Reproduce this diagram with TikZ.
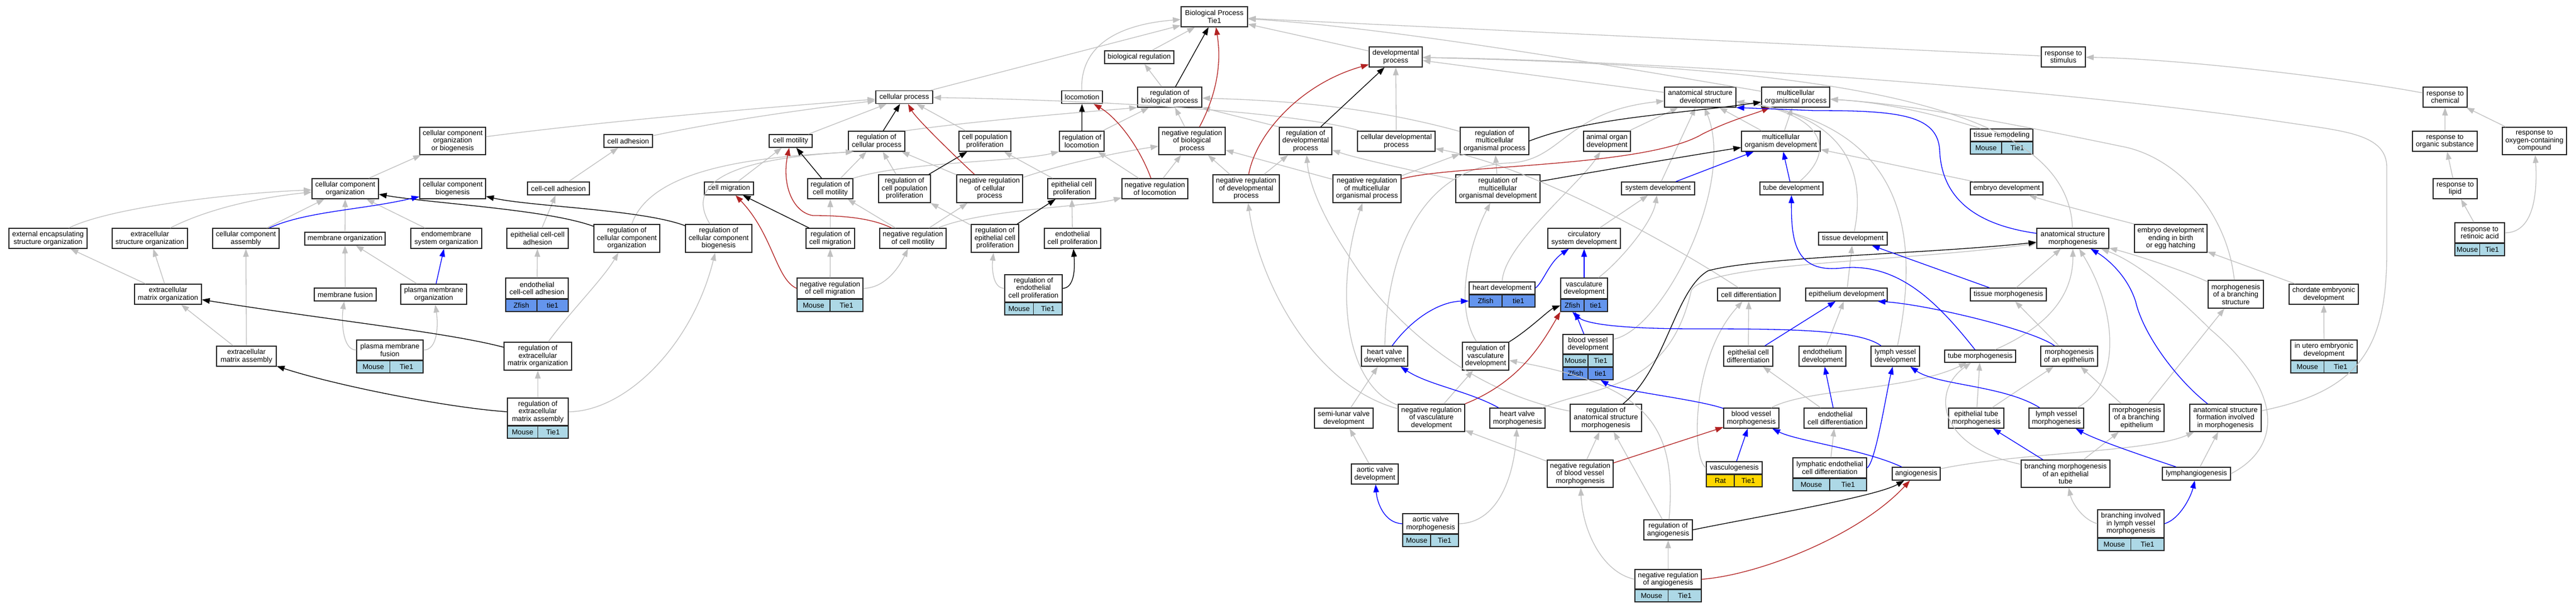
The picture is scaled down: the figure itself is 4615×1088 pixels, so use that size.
\documentclass[tikz,border=0pt]{standalone}
\usepackage{fontspec}
\setmainfont{Liberation Sans}
\usetikzlibrary{arrows.meta}
\definecolor{isagray}{RGB}{192,192,192}
\definecolor{negred}{RGB}{178,34,34}
\definecolor{partblue}{RGB}{0,0,255}
\definecolor{mouseblue}{RGB}{173,216,230}
\definecolor{fishblue}{RGB}{100,149,237}
\definecolor{ratgold}{RGB}{255,215,0}
\tikzset{
	term/.style={draw=black!85, line width=1.5pt, fill=white, align=center, inner sep=1pt, font=\fontsize{12.8}{13.5}\selectfont},
	genecell/.style={draw=black!85, line width=1.5pt, minimum height=21.5pt, inner sep=1pt, font=\fontsize{12.8}{13.5}\selectfont},
	isa/.style={draw=isagray, line width=1.3pt, -{Triangle[length=14pt,width=10pt]}},
	reg/.style={draw=black, line width=1.3pt, -{Triangle[length=14pt,width=10pt]}},
	negreg/.style={draw=negred, line width=1.3pt, -{Triangle[length=14pt,width=10pt]}},
	partof/.style={draw=partblue, line width=1.3pt, -{Triangle[length=14pt,width=10pt]}}
}
\newcommand{\term}[6]{\node[term, minimum width=#4pt, minimum height=#5pt] (#1) at (#2,#3) {#6};}
\newcommand{\genes}[7]{%
	\node[genecell, fill=#5, minimum width=#4pt, anchor=north west] (#1a) at (#2) {#6};
	\node[genecell, fill=#5, minimum width=#4pt, anchor=north east] (#1b) at (#3) {#7};}

\begin{document}
\begin{tikzpicture}[x=1pt, y=-1pt]
		%%%%% START %%%%%
		\useasboundingbox (0,0) rectangle (4615,1088);
		
		% cellular component side
		\term{ccob}{811}{252.5}{118}{49}{cellular component\\organization\\or biogenesis}
		\term{ccorg}{618.5}{338}{119}{36}{cellular component\\organization}
		\term{ccbio}{811}{338}{118}{36}{cellular component\\biogenesis}
		\term{extenc}{86}{427}{140}{36}{external encapsulating\\structure organization}
		\term{extstr}{268.5}{427}{135}{36}{extracellular\\structure organization}
		\term{ccasm}{440.5}{427}{119}{36}{cellular component\\assembly}
		\term{memorg}{618}{427.5}{144}{23}{membrane organization}
		\term{endomem}{799.5}{427}{127}{36}{endomembrane\\system organization}
		\term{ecmorg}{301}{527}{120}{36}{extracellular\\matrix organization}
		\term{memfus}{618.5}{527.5}{111}{23}{membrane fusion}
		\term{pmorg}{777}{527}{118}{36}{plasma membrane\\organization}
		\term{ecmasm}{441.5}{638}{107}{36}{extracellular\\matrix assembly}
		\term{pmfus}{698.5}{627}{119}{36}{plasma membrane\\fusion}
		\genes{pmfusm}{pmfus.south west}{pmfus.south east}{59.5}{mouseblue}{Mouse}{Tie1}
		\term{celladh}{1125.5}{252.5}{87}{23}{cell adhesion}
		\term{cellmot}{1416.5}{252.5}{77}{23}{cell motility}
		\term{ccadh}{1000.5}{337.5}{111}{23}{cell-cell adhesion}
		\term{cellmig}{1306}{337.5}{88}{23}{cell migration}
		\term{regmot}{1487.5}{338}{81}{36}{regulation of\\cell motility}
		\term{epiadh}{963}{427}{110}{36}{epithelial cell-cell\\adhesion}
		\term{regccorg}{1123}{427}{118}{50}{regulation of\\cellular component\\organization}
		\term{regccbio}{1287.5}{427}{119}{50}{regulation of\\cellular component\\biogenesis}
		\term{regmig}{1487.5}{427}{87}{36}{regulation of\\cell migration}
		\term{endoadh}{962}{516.5}{112}{37}{endothelial\\cell-cell adhesion}
		\genes{endoadhz}{endoadh.south west}{endoadh.south east}{56}{fishblue}{Zfish}{tie1}
		\term{negmig}{1487}{516.5}{118}{37}{negative regulation\\of cell migration}
		\genes{negmigm}{negmig.south west}{negmig.south east}{59}{mouseblue}{Mouse}{Tie1}
		\term{regecmorg}{963.5}{638}{121}{50}{regulation of\\extracellular\\matrix organization}
		\term{regecmasm}{963.5}{737.5}{109}{49}{regulation of\\extracellular\\matrix assembly}
		\genes{regecmasmm}{regecmasm.south west}{regecmasm.south east}{54.5}{mouseblue}{Mouse}{Tie1}
		
		% top and regulation
		\term{bp}{2175.5}{30}{119}{36}{Biological Process\\Tie1}
		\term{bioreg}{2041}{102.5}{124}{23}{biological regulation}
		\term{cellproc}{1620}{174}{102}{23}{cellular process}
		\term{locom}{1938.5}{174}{73}{23}{locomotion}
		\term{regbio}{2095.5}{174}{115}{36}{regulation of\\biological process}
		\term{regcell}{1570.5}{253}{101}{36}{regulation of\\cellular process}
		\term{cellpop}{1764.5}{253}{93}{36}{cell population\\proliferation}
		\term{regloc}{1938}{253}{80}{36}{regulation of\\locomotion}
		\term{negbio}{2135.5}{252.5}{119}{49}{negative regulation\\of biological\\process}
		\term{regpop}{1620.5}{338}{93}{50}{regulation of\\cell population\\proliferation}
		\term{negcell}{1773}{338}{118}{50}{negative regulation\\of cellular\\process}
		\term{epiprol}{1920}{338}{86}{36}{epithelial cell\\proliferation}
		\term{negloc}{2069}{338}{118}{36}{negative regulation\\of locomotion}
		\term{negdev}{2232.5}{338}{119}{50}{negative regulation\\of developmental\\process}
		\term{negmot}{1635.5}{427}{119}{36}{negative regulation\\of cell motility}
		\term{regepi}{1782.5}{427}{85}{50}{regulation of\\epithelial cell\\proliferation}
		\term{endoprol}{1921.5}{427}{101}{36}{endothelial\\cell proliferation}
		\term{regendo}{1851.5}{516.5}{103}{49}{regulation of\\endothelial\\cell proliferation}
		\genes{regendom}{regendo.south west}{regendo.south east}{51.5}{mouseblue}{Mouse}{Tie1}
		
		% development
		\term{devproc}{2500.5}{102}{95}{36}{developmental\\process}
		\term{asdev}{3046}{174}{128}{36}{anatomical structure\\development}
		\term{regdev}{2339}{252.5}{94}{49}{regulation of\\developmental\\process}
		\term{celldev}{2501.5}{253}{139}{36}{cellular developmental\\process}
		\term{regmop}{2677.5}{252.5}{123}{49}{regulation of\\multicellular\\organismal process}
		\term{organdev}{2879}{253}{84}{36}{animal organ\\development}
		\term{negmop}{2449}{338}{122}{50}{negative regulation\\of multicellular\\organismal process}
		\term{regmod}{2683.5}{338}{151}{50}{regulation of\\multicellular\\organismal development}
		\term{sysdev}{2970.5}{337.5}{131}{23}{system development}
		\term{circdev}{2838}{427}{130}{36}{circulatory\\system development}
		\term{heartdev}{2691}{516}{118}{22}{heart development}
		\genes{heartdevz}{heartdev.south west}{heartdev.south east}{59}{fishblue}{Zfish}{tie1}
		\term{vascdev}{2838}{516.5}{84}{37}{vasculature\\development}
		\genes{vascdevz}{vascdev.south west}{vascdev.south east}{42}{fishblue}{Zfish}{tie1}
		\term{hvdev}{2480.5}{638}{83}{36}{heart valve\\development}
		\term{regvasc}{2661.5}{638}{83}{50}{regulation of\\vasculature\\development}
		\term{bvdev}{2845}{616.5}{90}{35}{blood vessel\\development}
		\genes{bvdevm}{bvdev.south west}{bvdev.south east}{45}{mouseblue}{Mouse}{Tie1}
		\genes{bvdevz}{bvdevma.south west}{bvdevmb.south east}{45}{fishblue}{Zfish}{tie1}
		\term{slvdev}{2407.5}{749}{105}{36}{semi-lunar valve\\development}
		\term{negvasc}{2564.5}{748.5}{119}{49}{negative regulation\\of vasculature\\development}
		\term{hvmorph}{2718.5}{749}{99}{36}{heart valve\\morphogenesis}
		\term{regasm}{2877}{748.5}{128}{49}{regulation of\\anatomical structure\\morphogenesis}
		\term{avdev}{2463}{849}{84}{36}{aortic valve\\development}
		\term{negbvm}{2831}{848.5}{118}{49}{negative regulation\\of blood vessel\\morphogenesis}
		\term{avmorph}{2563}{938}{100}{36}{aortic valve\\morphogenesis}
		\genes{avmorphm}{avmorph.south west}{avmorph.south east}{50}{mouseblue}{Mouse}{Tie1}
		\term{regang}{2988.5}{949}{87}{36}{regulation of\\angiogenesis}
		\term{negang}{2988.5}{1037.5}{119}{35}{negative regulation\\of angiogenesis}
		\genes{negangm}{negang.south west}{negang.south east}{59.5}{mouseblue}{Mouse}{Tie1}
		
		% morphogenesis and response
		\term{respstim}{3696.5}{102}{79}{36}{response to\\stimulus}
		\term{mop}{3217}{174}{122}{36}{multicellular\\organismal process}
		\term{modev}{3190.5}{253}{141}{36}{multicellular\\organism development}
		\term{tissrem}{3586}{242}{112}{22}{tissue remodeling}
		\genes{tissremm}{tissrem.south west}{tissrem.south east}{56}{mouseblue}{Mouse}{Tie1}
		\term{tubedev}{3209.5}{337.5}{113}{23}{tube development}
		\term{embdev}{3595}{337.5}{130}{23}{embryo development}
		\term{tissdev}{3319.5}{427.5}{123}{23}{tissue development}
		\term{asmorph}{3713.5}{427}{129}{36}{anatomical structure\\morphogenesis}
		\term{celldiff}{3133}{527.5}{112}{23}{cell differentiation}
		\term{epidev}{3308}{527.5}{146}{23}{epithelium development}
		\term{tissmorph}{3598}{527.5}{136}{23}{tissue morphogenesis}
		\term{epidiff}{3132}{638}{88}{36}{epithelial cell\\differentiation}
		\term{endodev}{3265}{638}{84}{36}{endothelium\\development}
		\term{lvdev}{3395.5}{638}{87}{36}{lymph vessel\\development}
		\term{tubemorph}{3547.5}{638}{127}{22}{tube morphogenesis}
		\term{morphepi}{3707}{638}{102}{36}{morphogenesis\\of an epithelium}
		\term{bvmorph}{3137.5}{749}{99}{36}{blood vessel\\morphogenesis}
		\term{endodiff}{3288}{749}{112}{36}{endothelial\\cell differentiation}
		\term{epitube}{3540.5}{749}{99}{36}{epithelial tube\\morphogenesis}
		\term{lvmorph}{3684}{749}{98}{36}{lymph vessel\\morphogenesis}
		\term{morphbre}{3828}{748.5}{98}{49}{morphogenesis\\of a branching\\epithelium}
		\term{vasculo}{3107}{838}{100}{22}{vasculogenesis}
		\genes{vasculor}{vasculo.south west}{vasculo.south east}{50}{ratgold}{Rat}{Tie1}
		\term{lecdiff}{3278}{838}{132}{36}{lymphatic endothelial\\cell differentiation}
		\genes{lecdiffm}{lecdiff.south west}{lecdiff.south east}{66}{mouseblue}{Mouse}{Tie1}
		\term{angio}{3433}{848.5}{86}{23}{angiogenesis}
		\term{bmet}{3700.5}{848.5}{159}{49}{branching morphogenesis\\of an epithelial\\tube}
		\term{blvm}{3817.5}{938}{119}{50}{branching involved\\in lymph vessel\\morphogenesis}
		\genes{blvmm}{blvm.south west}{blvm.south east}{59.5}{mouseblue}{Mouse}{Tie1}
		\term{rchem}{4380.5}{174}{79}{36}{response to\\chemical}
		\term{rorg}{4380}{253}{116}{36}{response to\\organic substance}
		\term{roxy}{4540.5}{252.5}{115}{49}{response to\\oxygen-containing\\compound}
		\term{rlipid}{4398.5}{338}{79}{36}{response to\\lipid}
		\term{rretin}{4442.5}{417}{89}{36}{response to\\retinoic acid}
		\genes{rretinm}{rretin.south west}{rretin.south east}{44.5}{mouseblue}{Mouse}{Tie1}
		\term{embbirth}{3889}{427}{130}{50}{embryo development\\ending in birth\\or egg hatching}
		\term{morphbs}{4005.5}{527}{99}{50}{morphogenesis\\of a branching\\structure}
		\term{chordate}{4163}{527}{124}{36}{chordate embryonic\\development}
		\term{inutero}{4163.5}{627}{119}{36}{in utero embryonic\\development}
		\genes{inuterom}{inutero.south west}{inutero.south east}{59.5}{mouseblue}{Mouse}{Tie1}
		\term{asform}{3987}{748.5}{128}{49}{anatomical structure\\formation involved\\in morphogenesis}
		\term{lymphang}{3935}{848.5}{122}{23}{lymphangiogenesis}
		
		% is_a links
		\draw[isa] (ccorg) -- (ccob);
		\draw[isa] (extenc) .. controls (200,370) and (430,345) .. (ccorg);
		\draw[isa] (extstr) .. controls (380,370) and (480,352) .. (ccorg);
		\draw[isa] (ccasm) -- (ccorg);
		\draw[isa] (memorg) -- (ccorg);
		\draw[isa] (endomem) -- (ccorg);
		\draw[isa] (ecmorg) -- (extenc);
		\draw[isa] (ecmorg) -- (extstr);
		\draw[isa] (ecmasm) -- (ecmorg);
		\draw[isa] (ecmasm) -- (ccasm);
		\draw[isa] (memfus) -- (memorg);
		\draw[isa] (pmorg) -- (memorg);
		\draw[isa] (pmfus.west) .. controls (612,627) and (612,570) .. (memfus);
		\draw[isa] (pmfus.east) .. controls (785,627) and (785,580) .. (pmorg);
		\draw[isa] (regecmasm) -- (regecmorg);
		\draw[isa] (regecmorg) .. controls (1020,560) and (1080,500) .. (regccorg);
		\draw[isa] (regecmasm.east) .. controls (1120,737) and (1240,620) .. (regccbio);
		\draw[isa] (ccadh) -- (celladh);
		\draw[isa] (epiadh) -- (ccadh);
		\draw[isa] (endoadh) -- (epiadh);
		\draw[isa] (celladh) .. controls (1300,215) and (1450,195) .. (cellproc);
		\draw[isa] (ccob) .. controls (1100,215) and (1400,190) .. (cellproc);
		\draw[isa] (cellmot) -- (cellproc);
		\draw[isa] (cellmig) -- (cellmot);
		\draw[isa] (regmot) -- (regcell);
		\draw[isa] (regmig) -- (regmot);
		\draw[isa] (negmig) -- (regmig);
		\draw[isa] (negmig.east) .. controls (1590,516) and (1615,470) .. (negmot);
		\draw[isa] (negmot) -- (regmot);
		\draw[isa] (negmot) -- (negcell);
		\draw[isa] (negmot) .. controls (1760,375) and (1950,370) .. (negloc);
		\draw[isa] (regccorg) .. controls (1170,290) and (1400,280) .. ([xshift=10pt]regcell.south west);
		\draw[isa] (regccbio) .. controls (1210,300) and (1400,280) .. ([xshift=10pt]regcell.south west);
		\draw[isa] (regmot.north east) .. controls (1620,290) and (1820,290) .. (regloc.south west);
		\draw[isa] (regpop) -- (regcell);
		\draw[isa] (negcell) -- (regcell);
		\draw[isa] (negcell) .. controls (1900,295) and (1990,275) .. (negbio);
		\draw[isa] (cellpop) -- (cellproc);
		\draw[isa] (epiprol) -- (cellpop);
		\draw[isa] (regepi) -- (regpop);
		\draw[isa] (endoprol) -- (epiprol);
		\draw[isa] (regendo.west) .. controls (1778,516) and (1777,480) .. (regepi);
		\draw[isa] (regcell.north east) .. controls (1760,215) and (1950,200) .. (regbio.south west);
		\draw[isa] (cellproc) -- (bp);
		\draw[isa] (locom) .. controls (1935,90) and (1990,45) .. (bp);
		\draw[isa] (bioreg) -- (bp);
		\draw[isa] (regbio) -- (bioreg);
		\draw[isa] (negbio) -- (regbio);
		\draw[isa] (regloc) -- (regbio);
		\draw[isa] (negloc) -- (regloc);
		\draw[isa] (negloc) -- (negbio);
		\draw[isa] (negdev) -- (negbio);
		\draw[isa] (negdev) -- (regdev);
		\draw[isa] (regdev.north west) -- (regbio.south east);
		\draw[isa] (regmop) .. controls (2450,190) and (2300,180) .. (regbio);
		\draw[isa] (negmop) -- (negbio);
		\draw[isa] (celldev) .. controls (2300,195) and (1900,178) .. (cellproc);
		\draw[isa] (devproc) -- (bp);
		\draw[isa] (asdev) -- (devproc);
		\draw[isa] (celldev) -- (devproc);
		\draw[isa] (negmop) -- (regmop);
		\draw[isa] (regmod) -- (regmop);
		\draw[isa] (regmod) .. controls (2480,295) and (2420,280) .. (regdev);
		\draw[isa] (organdev) -- (asdev);
		\draw[isa] (sysdev) -- (asdev);
		\draw[isa] (modev) -- (asdev);
		\draw[isa] (modev) -- (mop);
		\draw[isa] (circdev) -- (sysdev);
		\draw[isa] (heartdev) .. controls (2693,440) and (2830,330) .. (organdev);
		\draw[isa] (hvdev) .. controls (2485,430) and (2560,300) .. (2700,292) .. controls (2800,290) and (2800,200) .. (asdev);
		\draw[isa] (vascdev) .. controls (2900,470) and (2960,400) .. (sysdev);
		\draw[isa] (bvdev) .. controls (2980,590) and (3110,330) .. (asdev);
		\draw[isa] (mop) .. controls (2900,120) and (2500,50) .. (bp);
		\draw[isa] (respstim) -- (bp);
		\draw[isa] (asmorph) .. controls (3705,190) and (3300,120) .. (devproc);
		\draw[isa] (asform) .. controls (4230,700) and (4276,620) .. (4276,450) -- (4276,300) .. controls (4276,240) and (4200,235) .. (4100,220) .. controls (3700,160) and (3000,110) .. (devproc);
		\draw[isa] (tissrem) .. controls (3500,215) and (3400,185) .. (mop);
		\draw[isa] (morphbs) .. controls (3990,380) and (3900,280) .. (3800,262) .. controls (3550,210) and (3400,185) .. (mop);
		\draw[isa] (embdev) -- (modev);
		\draw[isa] (embbirth) .. controls (3820,400) and (3700,370) .. (embdev);
		\draw[isa] (chordate) -- (embbirth);
		\draw[isa] (inutero) -- (chordate);
		\draw[isa] (tubedev) .. controls (3300,260) and (3250,200) .. (asdev);
		\draw[isa] (tissdev) .. controls (3345,300) and (3300,205) .. (asdev);
		\draw[isa] (lvdev) .. controls (3445,400) and (3400,220) .. (asdev);
		\draw[isa] (celldiff) .. controls (3000,440) and (2750,300) .. (celldev);
		\draw[isa] (epidiff) -- (celldiff);
		\draw[isa] (endodev) -- (epidev);
		\draw[isa] (epidev) -- (tissdev);
		\draw[isa] (morphepi) -- (tissmorph);
		\draw[isa] (tissmorph) -- (asmorph);
		\draw[isa] (tubemorph) .. controls (3680,580) and (3714,520) .. (asmorph);
		\draw[isa] (vasculo.west) .. controls (3030,820) and (3030,640) .. (celldiff);
		\draw[isa] (bvmorph) .. controls (3240,695) and (3420,700) .. (tubemorph);
		\draw[isa] (endodiff) -- (epidiff);
		\draw[isa] (lecdiff) -- (endodiff);
		\draw[isa] (angio) .. controls (3620,810) and (3850,810) .. (asform);
		\draw[isa] (epitube) -- (tubemorph);
		\draw[isa] (epitube) -- (morphepi);
		\draw[isa] (lvmorph) .. controls (3800,690) and (3795,560) .. (asmorph);
		\draw[isa] (bmet) -- (morphbre);
		\draw[isa] (bmet) .. controls (3470,800) and (3460,700) .. (tubemorph);
		\draw[isa] (blvm.west) .. controls (3730,930) and (3712,900) .. (bmet);
		\draw[isa] (lymphang) -- (asform);
		\draw[isa] (lymphang.east) .. controls (4090,800) and (4090,700) .. (3960,590) .. controls (3900,530) and (3830,470) .. (asmorph);
		\draw[isa] (morphbre) -- (morphepi);
		\draw[isa] (morphbre) -- (morphbs);
		\draw[isa] (morphbs) .. controls (3900,480) and (3820,455) .. (asmorph);
		\draw[isa] (rorg) -- (rchem);
		\draw[isa] (roxy) -- (rchem);
		\draw[isa] (rlipid) -- (rorg);
		\draw[isa] (rretin) -- (rlipid);
		\draw[isa] (rretin.east) .. controls (4545,417) and (4545,330) .. (roxy);
		\draw[isa] (rchem) .. controls (4200,140) and (3900,105) .. (respstim);
		\draw[isa] (slvdev) -- (hvdev);
		\draw[isa] (avdev) -- (slvdev);
		\draw[isa] (avmorph.east) .. controls (2680,937) and (2712,860) .. (hvmorph);
		\draw[isa] (negvasc) -- (regvasc);
		\draw[isa] (negvasc) .. controls (2410,690) and (2390,520) .. (negmop);
		\draw[isa] (negvasc) .. controls (2350,690) and (2255,500) .. (negdev);
		\draw[isa] (regvasc) .. controls (2600,540) and (2640,420) .. (regmod);
		\draw[isa] (hvmorph) .. controls (2860,690) and (2990,700) .. (3030,520) .. controls (3060,470) and (3400,470) .. (asmorph);
		\draw[isa] (regasm) .. controls (2620,700) and (2480,560) .. (2420,464) .. controls (2370,390) and (2345,330) .. (regdev);
		\draw[isa] (negbvm) -- (regasm);
		\draw[isa] (negbvm) -- (negvasc);
		\draw[isa] (regang) -- (regasm);
		\draw[isa] (regang) .. controls (3005,760) and (2950,690) .. (regvasc);
		\draw[isa] (negang) -- (regang);
		\draw[isa] (negang.west) .. controls (2870,1025) and (2835,950) .. (negbvm);
		
		% regulates
		\draw[reg] (regccorg) .. controls (980,375) and (780,365) .. (ccorg);
		\draw[reg] (regccbio) .. controls (1150,375) and (950,370) .. (ccbio);
		\draw[reg] (regecmorg) .. controls (800,595) and (600,575) .. (ecmorg);
		\draw[reg] (regecmasm.west) .. controls (800,730) and (600,690) .. (ecmasm);
		\draw[reg] (regmot) -- (cellmot);
		\draw[reg] (regmig) -- (cellmig);
		\draw[reg] (regcell) -- (cellproc);
		\draw[reg] (regpop) -- (cellpop);
		\draw[reg] (regloc) -- (locom);
		\draw[reg] (regbio) -- (bp);
		\draw[reg] (regepi) -- (epiprol);
		\draw[reg] (regendo.east) .. controls (1925,516) and (1926,480) .. (endoprol);
		\draw[reg] (regdev) -- (devproc);
		\draw[reg] (regmop.east) .. controls (2850,210) and (3000,205) .. (mop);
		\draw[reg] (regmod) .. controls (2900,300) and (3050,275) .. (modev);
		\draw[reg] (regvasc.north east) .. controls (2740,590) and (2775,555) .. (vascdevza.west);
		\draw[reg] (regasm) .. controls (2985,660) and (3000,520) .. (3060,485) .. controls (3150,460) and (3450,455) .. (asmorph);
		\draw[reg] (regang.east) .. controls (3150,925) and (3360,890) .. (angio);
		
		% negatively regulates
		\draw[negreg] (negmig.west) .. controls (1390,500) and (1385,420) .. (cellmig);
		\draw[negreg] (negmot) .. controls (1570,395) and (1530,386) .. (1456,386) .. controls (1420,380) and (1400,330) .. (cellmot);
		\draw[negreg] (negcell) .. controls (1690,260) and (1640,210) .. (cellproc);
		\draw[negreg] (negloc) .. controls (2040,260) and (2000,210) .. (locom);
		\draw[negreg] (negbio) .. controls (2190,150) and (2185,90) .. (bp);
		\draw[negreg] (negdev) .. controls (2250,240) and (2330,150) .. (devproc);
		\draw[negreg] (negmop) .. controls (2600,295) and (2950,300) .. (3050,240) .. controls (3100,215) and (3140,205) .. (mop);
		\draw[negreg] (negvasc.north east) .. controls (2720,685) and (2760,620) .. (vascdevza.south west);
		\draw[negreg] (negbvm) -- (bvmorph);
		\draw[negreg] (negang.east) .. controls (3150,1030) and (3330,960) .. (angio);
		
		% part of
		\draw[partof] (ccasm) .. controls (550,378) and (650,376) .. (ccbio);
		\draw[partof] (pmorg) -- (endomem);
		\draw[partof] (heartdev.east) .. controls (2765,505) and (2775,470) .. (circdev);
		\draw[partof] (vascdev) -- (circdev);
		\draw[partof] (sysdev) -- (modev);
		\draw[partof] (tubedev) -- (modev);
		\draw[partof] (asmorph) .. controls (3520,400) and (3478,340) .. (3475,270) .. controls (3472,205) and (3400,198) .. (3250,198) -- (asdev.south east);
		\draw[partof] (tubemorph) .. controls (3470,540) and (3400,470) .. (3300,480) .. controls (3215,490) and (3209,430) .. (tubedev);
		\draw[partof] (tissmorph) -- (tissdev);
		\draw[partof] (epidiff) -- (epidev);
		\draw[partof] (morphepi) .. controls (3640,590) and (3450,545) .. ([xshift=-18pt]epidev.south east);
		\draw[partof] (endodiff) -- (endodev);
		\draw[partof] (lvdev) .. controls (3330,590) and (3200,589) .. (3040,589) .. controls (2900,589) and (2840,580) .. (vascdevza.south);
		\draw[partof] (bvdev) -- (vascdevza);
		\draw[partof] (bvmorph) .. controls (3040,715) and (2900,700) .. (bvdevzb.south);
		\draw[partof] (vasculo) -- (bvmorph);
		\draw[partof] (lecdiff.east) .. controls (3360,830) and (3380,700) .. (lvdev);
		\draw[partof] (angio) .. controls (3340,805) and (3220,790) .. (bvmorph);
		\draw[partof] (lvmorph) .. controls (3590,690) and (3470,690) .. (lvdev);
		\draw[partof] (bmet) -- (epitube);
		\draw[partof] (blvm.east) .. controls (3905,930) and (3925,890) .. (lymphang);
		\draw[partof] (lymphang) .. controls (3850,820) and (3760,790) .. (lvmorph);
		\draw[partof] (asform) .. controls (3900,680) and (3840,600) .. (3826,540) .. controls (3810,490) and (3770,460) .. (asmorph);
		\draw[partof] (hvdev) .. controls (2530,570) and (2580,540) .. (heartdevza.west);
		\draw[partof] (hvmorph) .. controls (2630,700) and (2560,690) .. (hvdev);
		\draw[partof] (avmorph.west) .. controls (2480,937) and (2467,900) .. (avdev);
		
		%%%%% END %%%%%
\end{tikzpicture}
\end{document}
